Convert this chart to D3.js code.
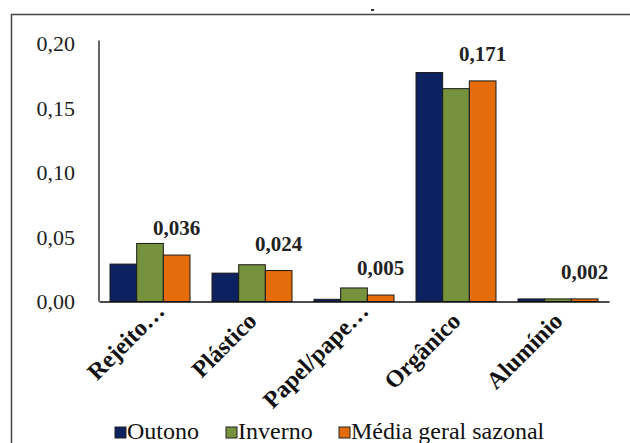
<!DOCTYPE html>
<html>
<head>
<meta charset="utf-8">
<script src="https://cdn.jsdelivr.net/npm/d3@7"></script>
</head>
<body style="margin:0">
<svg id="chart" width="630" height="443" style="display:block"></svg>
<script>
// Categories of waste and the seasonal fractions for each
const categories = ["Rejeito…", "Plástico", "Papel/pape…", "Orgânico", "Alumínio"];
const seriesNames = ["Outono", "Inverno", "Média geral sazonal"];
const outono  = [0.029, 0.022, 0.0017, 0.1775, 0.002];
const inverno = [0.045, 0.0285, 0.0105, 0.165, 0.002];
const media   = [0.036, 0.024, 0.005, 0.171, 0.002];
const mediaLabels = ["0,036", "0,024", "0,005", "0,171", "0,002"];
const yTicks = [0, 0.05, 0.10, 0.15, 0.20];
const yTickLabels = ["0,00", "0,05", "0,10", "0,15", "0,20"];
const colors = ["#0c2160", "#76923c", "#e46c0a"];

const series = [outono, inverno, media];

const FONT = '"Liberation Serif", "Times New Roman", serif';
const svg = d3.select("#chart");

// Outer frame
svg.append("rect")
  .attr("x", 11.5).attr("y", 14.5)
  .attr("width", 640).attr("height", 440)
  .attr("fill", "none").attr("stroke", "#444").attr("stroke-width", 1.5);

// small stray dash above the frame
svg.append("rect")
  .attr("x", 371).attr("y", 9)
  .attr("width", 3).attr("height", 2)
  .attr("fill", "#333");

const plot = { left: 99, right: 609, top: 43.5, bottom: 301.5 };

const x0 = d3.scaleBand()
  .domain(categories)
  .range([plot.left, plot.right])
  .paddingInner(0.2157)
  .paddingOuter(0.108);

const x1 = d3.scaleBand()
  .domain(d3.range(series.length))
  .range([0, x0.bandwidth()]);

const y = d3.scaleLinear().domain([0, 0.20]).range([plot.bottom, plot.top]);

// Y axis: line and labels only
const yAxis = d3.axisLeft(y)
  .tickValues(yTicks)
  .tickFormat((d, i) => yTickLabels[i])
  .tickSize(0)
  .tickPadding(24);

const gy = svg.append("g")
  .attr("transform", `translate(${plot.left},0)`)
  .call(yAxis);
gy.select(".domain").attr("stroke", "#111").attr("stroke-width", 1.3)
  .attr("d", `M0,${plot.top - 3}V${plot.bottom}`);
gy.selectAll("text")
  .style("font-family", FONT)
  .style("font-size", "22px")
  .attr("fill", "#222");

// Bars
const groups = svg.append("g").selectAll("g")
  .data(categories)
  .join("g")
  .attr("transform", d => `translate(${x0(d)},0)`);

groups.selectAll("rect")
  .data((d, ci) => series.map((s, si) => ({ si, v: s[ci] })))
  .join("rect")
  .attr("x", d => x1(d.si))
  .attr("y", d => y(d.v))
  .attr("width", x1.bandwidth())
  .attr("height", d => y(0) - y(d.v))
  .attr("fill", d => colors[d.si])
  .attr("stroke", "#1a1a1a")
  .attr("stroke-width", 1);

// X axis line
const xAxis = d3.axisBottom(x0).tickSize(0).tickFormat("");
const gx = svg.append("g")
  .attr("transform", `translate(0,${plot.bottom})`)
  .call(xAxis);
gx.select(".domain").attr("stroke", "#111").attr("stroke-width", 1.3);

// Rotated category labels; truncated names end with a wider ellipsis
svg.append("g").selectAll("text")
  .data(categories)
  .join("text")
  .attr("transform", d => `translate(${x0(d) + x0.bandwidth() / 2 + 6},${plot.bottom + 21}) rotate(-45)`)
  .attr("x", d => d.endsWith("…") ? 14 : 0)
  .attr("text-anchor", "end")
  .style("font-family", FONT)
  .style("font-weight", "bold")
  .style("font-size", "24px")
  .attr("fill", "#111")
  .text(d => d);

// Value labels over the seasonal average bars
svg.append("g").selectAll("text")
  .data(categories)
  .join("text")
  .attr("x", d => x0(d) + x1(2) + x1.bandwidth() / 2)
  .attr("y", (d, i) => y(media[i]) - 20)
  .attr("text-anchor", "middle")
  .style("font-family", FONT)
  .style("font-weight", "bold")
  .style("font-size", "21px")
  .attr("fill", "#222")
  .text((d, i) => mediaLabels[i]);

// Legend
const legend = svg.append("g");
const legendX = [115, 226, 339];
seriesNames.forEach((name, i) => {
  legend.append("rect")
    .attr("x", legendX[i]).attr("y", 427)
    .attr("width", 11).attr("height", 11)
    .attr("fill", colors[i])
    .attr("stroke", "#222").attr("stroke-width", 1);
  legend.append("text")
    .attr("x", legendX[i] + 12).attr("y", 439)
    .style("font-family", FONT)
    .style("font-size", "24px")
    .attr("fill", "#111")
    .text(name);
});
</script>
</body>
</html>
